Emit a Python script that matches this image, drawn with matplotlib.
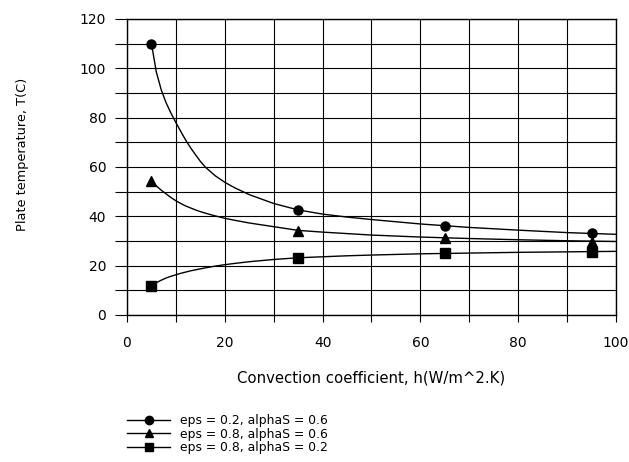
import matplotlib
matplotlib.use("Agg")
import matplotlib.pyplot as plt
from matplotlib.lines import Line2D
from matplotlib.ticker import MultipleLocator

plt.rcParams['font.family'] = ['DejaVu Sans']

# Smooth curves
h_curve = [5, 6, 7, 8, 9, 10, 11, 12, 13, 14, 15, 16, 18, 20, 22, 25, 30, 35, 40, 45, 50, 60, 70, 80, 90, 100]
T_eps02_a06 = [110, 98.5, 91.3, 86, 81.8, 78, 74.4, 70.9, 67.8, 65, 62.3, 60, 56.5, 53.8, 51.6, 48.8, 45.2,
               42.6, 40.9, 39.7, 38.7, 36.9, 35.5, 34.4, 33.4, 32.7]
T_eps08_a06 = [54.2, 52.3, 50.6, 49.1, 47.6, 46.3, 45.2, 44.2, 43.4, 42.6, 41.9, 41.3, 40.2, 39.2, 38.4, 37.3, 35.8,
               34.3, 33.6, 33.0, 32.4, 31.6, 31.0, 30.5, 30.1, 29.8]
T_eps08_a02 = [11.9, 13.1, 14.1, 15, 15.7, 16.3, 16.9, 17.4, 17.9, 18.3, 18.7, 19.1, 19.8, 20.4, 20.9, 21.6, 22.5,
               23.2, 23.6, 24.0, 24.3, 24.8, 25.1, 25.4, 25.6, 25.8]

# Marker points
h_pts = [5, 35, 65, 95]
P_eps02_a06 = [110, 42.6, 36.0, 33.1]
P_eps08_a06 = [54.2, 34.1, 31.1, 29.7]
P_eps08_a02 = [11.9, 23.2, 25.1, 25.7]

labels = ["eps = 0.2, alphaS = 0.6", "eps = 0.8, alphaS = 0.6", "eps = 0.8, alphaS = 0.2"]
markers = ["o", "^", "s"]

fig = plt.figure(figsize=(6.29, 4.62), dpi=100)
ax = fig.add_axes([0.2019, 0.3182, 0.9793 - 0.2019, 0.9589 - 0.3182])

curves = [T_eps02_a06, T_eps08_a06, T_eps08_a02]
pts = [P_eps02_a06, P_eps08_a06, P_eps08_a02]
handles = []
for c, p, m, lab in zip(curves, pts, markers, labels):
    ax.plot(h_curve, c, color="black", lw=1.0, zorder=3)
    ax.plot(h_pts, p, linestyle="none", marker=m, color="black", ms=6.5, zorder=4)
    handles.append(Line2D([0], [0], color="black", lw=1.0, marker=m, ms=6.0, label=lab))

ax.set_xlim(0, 100)
ax.set_ylim(0, 120)
ax.xaxis.set_major_locator(MultipleLocator(20))
ax.xaxis.set_minor_locator(MultipleLocator(10))
ax.yaxis.set_major_locator(MultipleLocator(20))
ax.yaxis.set_minor_locator(MultipleLocator(10))
ax.grid(True, which="both", color="black", lw=0.8)
ax.set_axisbelow(True)
ax.tick_params(axis="x", which="both", direction="out", length=5, width=0.8,
               color="black", labelsize=10, pad=10)
ax.tick_params(axis="y", which="both", direction="out", length=9, width=0.8,
               color="black", labelsize=10, pad=6)
for s in ax.spines.values():
    s.set_linewidth(1.0)
    s.set_color("black")

ax.set_xlabel("Convection coefficient, h(W/m^2.K)", fontsize=10.7)
ax.xaxis.label.set_va("center")
ax.xaxis.set_label_coords(0.5, (315 - 378) / 296)
ax.set_ylabel("Plate temperature, T(C)", fontsize=9.3)
ax.yaxis.label.set_va("center")
ax.yaxis.label.set_ha("center")
ax.yaxis.set_label_coords((23 - 127) / 489, (315 - 154) / 296)

fig.legend(handles=handles, loc="upper left", bbox_to_anchor=(0.2019, 1 - 414 / 462),
           frameon=False, fontsize=8.9, handlelength=3.5, handletextpad=0.82,
           labelspacing=0.05, borderpad=0, borderaxespad=0)

fig.savefig("out.png", dpi=100)
